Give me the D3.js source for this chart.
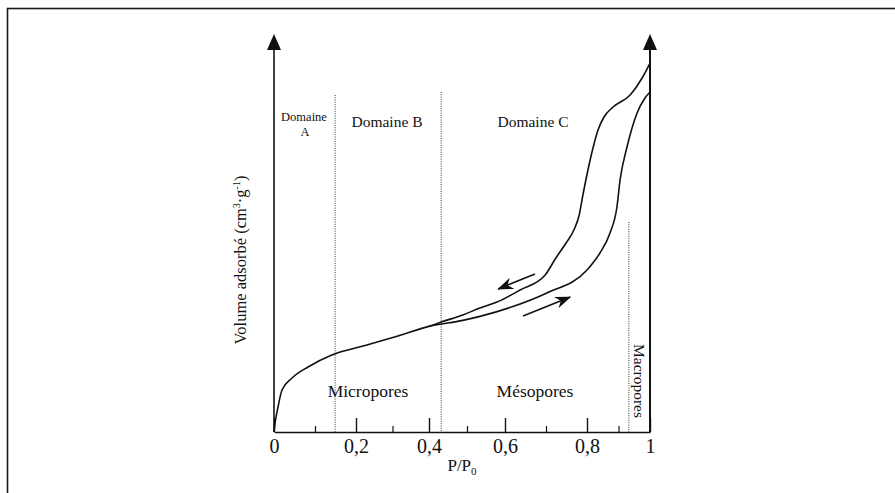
<!DOCTYPE html>
<html>
<head>
<meta charset="utf-8">
<script src="https://cdn.jsdelivr.net/npm/d3@7"></script>
<style>
  html, body { margin: 0; padding: 0; background: #fff; }
  svg { display: block; }
  text { font-family: "Liberation Serif", "Times New Roman", serif; fill: #111; }
</style>
</head>
<body>
<svg id="chart" width="895" height="493"></svg>
<script>
// Relative pressure P/P0 and adsorbed volume (arbitrary units, 0–100)
const adsorptionP = [0, 0.003, 0.0098, 0.0195, 0.044, 0.083, 0.141, 0.225, 0.315, 0.4, 0.489, 0.534, 0.612, 0.702, 0.8, 0.841, 0.873, 0.895, 0.905, 0.927, 0.959, 0.984, 1.0];
const adsorptionV = [0, 2.5, 6.25, 10.5, 13.5, 16.25, 19.25, 21.6, 24.0, 26.4, 27.9, 28.9, 31.1, 34.75, 40.5, 44.75, 49.75, 56.25, 63.0, 71.25, 79.75, 83.5, 85.0];

const desorptionP = [1.0, 0.975, 0.937, 0.883, 0.854, 0.835, 0.819, 0.803, 0.790, 0.781, 0.768, 0.749, 0.724, 0.698, 0.637, 0.579, 0.534, 0.489, 0.429, 0.4];
const desorptionV = [92.25, 88.5, 84.25, 81.25, 78.75, 75.5, 71.0, 65.5, 59.25, 54.25, 50.5, 47.25, 43.5, 39.25, 35.5, 32.5, 31.0, 29.25, 27.4, 26.4];

// Direction arrows: [startP, startV, endP, endV]
const desorptionArrow = [0.673, 39.5, 0.582, 35.75];
const adsorptionArrow = [0.644, 29.0, 0.759, 33.75];

// Domain boundaries (dotted) and their top ends
const boundaryP = [0.149, 0.432, 0.933];
const boundaryTopV = [84.25, 85.0, 52.5];

// Axis ticks
const majorTicks = [0, 0.2, 0.4, 0.6, 0.8, 1];
const majorTickLabels = ["0", "0,2", "0,4", "0,6", "0,8", "1"];
const minorTicks = [0.1, 0.3, 0.5, 0.7, 0.9];

const svg = d3.select("#chart");

// Hand-ruled pressure axis: tick spacing is not perfectly even
const x = d3.scaleLinear().domain(majorTicks).range([274, 356, 429, 505, 587, 650]);
const y = d3.scaleLinear().domain([0, 100]).range([432, 32]);

// Outer frame (continues past the right and bottom edges)
svg.append("rect")
  .attr("x", 7.5).attr("y", 8.5).attr("width", 1000).attr("height", 1000)
  .attr("fill", "none").attr("stroke", "#1a1a1a").attr("stroke-width", 1.6);

// Arrowhead marker
const defs = svg.append("defs");
defs.append("marker")
  .attr("id", "head").attr("markerUnits", "userSpaceOnUse")
  .attr("viewBox", "0 0 16 12").attr("refX", 15).attr("refY", 6)
  .attr("markerWidth", 16).attr("markerHeight", 12).attr("orient", "auto")
  .append("path").attr("d", "M0,0 L16,6 L0,12 L5,6 Z").attr("fill", "#111");

// Domain boundary lines
svg.append("g").selectAll("line")
  .data(boundaryP.map((p, i) => [p, boundaryTopV[i]]))
  .join("line")
  .attr("x1", d => x(d[0])).attr("x2", d => x(d[0]))
  .attr("y1", d => y(d[1])).attr("y2", y(0))
  .attr("stroke", "#333").attr("stroke-width", 1)
  .attr("stroke-dasharray", "1,1.3");

// Bottom axis with inward ticks
const xAxis = svg.append("g").attr("transform", `translate(0,${y(0)})`)
  .call(d3.axisBottom(x).tickValues(majorTicks)
    .tickFormat((d, i) => majorTickLabels[i])
    .tickSizeInner(-14).tickSizeOuter(0).tickPadding(6.5));
xAxis.select(".domain").attr("stroke", "#111").attr("stroke-width", 1.6);
xAxis.selectAll(".tick line").attr("stroke", "#111").attr("stroke-width", 1.4);
xAxis.selectAll(".tick text")
  .attr("font-family", "Liberation Serif, Times New Roman, serif")
  .attr("font-size", 20).attr("fill", "#111");

const xMinor = svg.append("g").attr("transform", `translate(0,${y(0)})`)
  .call(d3.axisBottom(x).tickValues(minorTicks).tickFormat("")
    .tickSizeInner(-6).tickSizeOuter(0));
xMinor.select(".domain").remove();
xMinor.selectAll(".tick line").attr("stroke", "#111").attr("stroke-width", 1.2);

// Vertical axes with arrowheads at P/P0 = 0 and P/P0 = 1
[0, 1].forEach(p => {
  const px = x(p);
  svg.append("line")
    .attr("x1", px).attr("x2", px).attr("y1", y(0)).attr("y2", y(96))
    .attr("stroke", "#111").attr("stroke-width", p === 1 ? 2 : 1.6);
  svg.append("path")
    .attr("d", `M${px},${y(99.5)} L${px - 7},${y(95.5)} L${px + 7},${y(95.5)} Z`)
    .attr("fill", "#111");
});

// Isotherm branches
const line = d3.line().x(d => x(d[0])).y(d => y(d[1])).curve(d3.curveMonotoneX);
const adsorption = adsorptionP.map((p, i) => [p, adsorptionV[i]]);
const desorption = desorptionP.map((p, i) => [p, desorptionV[i]])
  .sort((a, b) => a[0] - b[0]);

svg.append("path").datum(adsorption).attr("d", line)
  .attr("fill", "none").attr("stroke", "#111").attr("stroke-width", 1.6);
svg.append("path").datum(desorption).attr("d", line)
  .attr("fill", "none").attr("stroke", "#111").attr("stroke-width", 1.6);

// Direction arrows
[desorptionArrow, adsorptionArrow].forEach(a => {
  svg.append("line")
    .attr("x1", x(a[0])).attr("y1", y(a[1]))
    .attr("x2", x(a[2])).attr("y2", y(a[3]))
    .attr("stroke", "#111").attr("stroke-width", 1.6)
    .attr("marker-end", "url(#head)");
});

// Region labels
svg.append("text").attr("x", 304).attr("y", 121).attr("text-anchor", "middle")
  .attr("font-size", 12.5).text("Domaine");
svg.append("text").attr("x", 305).attr("y", 136).attr("text-anchor", "middle")
  .attr("font-size", 12.5).text("A");
svg.append("text").attr("x", 387).attr("y", 127).attr("text-anchor", "middle")
  .attr("font-size", 15.5).text("Domaine B");
svg.append("text").attr("x", 533).attr("y", 127).attr("text-anchor", "middle")
  .attr("font-size", 15.5).text("Domaine C");

svg.append("text").attr("x", 368).attr("y", 397).attr("text-anchor", "middle")
  .attr("font-size", 17.5).text("Micropores");
svg.append("text").attr("x", 535).attr("y", 397).attr("text-anchor", "middle")
  .attr("font-size", 17.5).text("Mésopores");
svg.append("text").attr("transform", "translate(634,381) rotate(90)")
  .attr("text-anchor", "middle").attr("font-size", 15.5).text("Macropores");

// Axis titles
const yTitle = svg.append("text").attr("transform", "translate(246,260) rotate(-90)")
  .attr("text-anchor", "middle").attr("font-size", 16.5);
yTitle.append("tspan").text("Volume adsorbé (cm");
yTitle.append("tspan").attr("dy", -6).attr("font-size", 10).text("3");
yTitle.append("tspan").attr("dy", 6).text("·g");
yTitle.append("tspan").attr("dy", -6).attr("font-size", 10).text("-1");
yTitle.append("tspan").attr("dy", 6).text(")");

const xTitle = svg.append("text").attr("x", 462).attr("y", 471)
  .attr("text-anchor", "middle").attr("font-size", 17);
xTitle.append("tspan").text("P/P");
xTitle.append("tspan").attr("dy", 4).attr("font-size", 11).text("0");
</script>
</body>
</html>
